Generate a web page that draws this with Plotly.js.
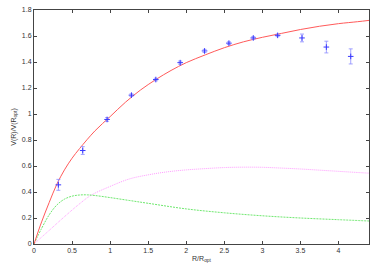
<!DOCTYPE html>
<html><head><meta charset="utf-8">
<script src="https://cdn.plot.ly/plotly-3.0.1.min.js"></script>
<style>html,body{margin:0;padding:0;background:#fff}#c{width:382px;height:267px}</style>
</head><body><div id="c"></div>
<script>
// Observed data
const dataR   = [0.32, 0.64, 0.96, 1.28, 1.60, 1.92, 2.24, 2.56, 2.88, 3.20, 3.52, 3.84, 4.16];
const dataV   = [0.455, 0.719, 0.958, 1.145, 1.265, 1.395, 1.485, 1.545, 1.585, 1.605, 1.585, 1.515, 1.443];
const dataErr = [0.042, 0.030, 0.014, 0.010, 0.010, 0.012, 0.012, 0.010, 0.010, 0.010, 0.030, 0.045, 0.058];

// Model curves
const totalR = [0, 0.1, 0.2, 0.3, 0.4, 0.5, 0.6, 0.8, 1.0, 1.2, 1.4, 1.6, 1.8, 2.0, 2.25, 2.5, 2.75, 3.0, 3.25, 3.5, 3.75, 4.0, 4.25, 4.4];
const totalV = [0, 0.17, 0.32, 0.46, 0.57, 0.66, 0.735, 0.87, 0.98, 1.09, 1.185, 1.265, 1.335, 1.395, 1.455, 1.51, 1.555, 1.59, 1.62, 1.65, 1.675, 1.695, 1.71, 1.72];

const diskR = [0, 0.1, 0.2, 0.3, 0.4, 0.5, 0.6, 0.7, 0.8, 1.0, 1.25, 1.5, 2.0, 2.5, 3.0, 3.5, 4.0, 4.4];
const diskV = [0, 0.12, 0.225, 0.30, 0.345, 0.368, 0.377, 0.378, 0.373, 0.357, 0.335, 0.313, 0.27, 0.24, 0.217, 0.20, 0.187, 0.177];

const haloR = [0, 0.2, 0.4, 0.6, 0.75, 1.0, 1.25, 1.5, 1.75, 2.0, 2.25, 2.5, 2.75, 3.0, 3.25, 3.5, 3.75, 4.0, 4.25, 4.4];
const haloV = [0, 0.105, 0.21, 0.31, 0.375, 0.443, 0.50, 0.532, 0.555, 0.57, 0.58, 0.588, 0.591, 0.59, 0.584, 0.577, 0.568, 0.559, 0.55, 0.545];

const xTicks = [0, 0.5, 1, 1.5, 2, 2.5, 3, 3.5, 4];
const yTicks = [0, 0.2, 0.4, 0.6, 0.8, 1, 1.2, 1.4, 1.6, 1.8];

const traces = [
  {x: haloR, y: haloV, mode: 'lines', line: {color: '#ff9cff', width: 1, shape: 'spline', dash: '1px,1px'}, hoverinfo: 'none'},
  {x: diskR, y: diskV, mode: 'lines', line: {color: '#6fe86f', width: 1, shape: 'spline', dash: '2px,1px'}, hoverinfo: 'none'},
  {x: totalR, y: totalV, mode: 'lines', line: {color: '#ff5a5a', width: 1, shape: 'spline'}, hoverinfo: 'none'},
  {x: dataR, y: dataV, mode: 'markers',
   marker: {symbol: 'cross-thin', size: 4, line: {color: '#3a3aff', width: 1}},
   error_y: {type: 'data', array: dataErr, visible: true, color: '#8c8cff', thickness: 0.8, width: 2}}
];

const axisCommon = {
  showline: true, linecolor: '#444', linewidth: 1, mirror: 'allticks',
  ticks: 'inside', ticklen: 3, tickcolor: '#444', tickwidth: 1,
  showgrid: false, zeroline: false,
  tickfont: {family: 'Liberation Sans, Arial, sans-serif', size: 7, color: '#333'}
};

const layout = {
  width: 382, height: 267,
  margin: {l: 34, r: 13, t: 10, b: 23},
  paper_bgcolor: '#fff', plot_bgcolor: '#fff',
  showlegend: false,
  xaxis: Object.assign({}, axisCommon, {
    range: [0, 4.4], tickvals: xTicks, ticktext: xTicks.map(String),
    title: {text: 'R/R<sub>opt</sub>', font: {family: 'Liberation Sans, Arial, sans-serif', size: 7, color: '#333'}, standoff: 2}
  }),
  yaxis: Object.assign({}, axisCommon, {
    range: [0, 1.8], tickvals: yTicks, ticktext: yTicks.map(String),
    title: {text: 'V(R)/V(R<sub>opt</sub>)', font: {family: 'Liberation Sans, Arial, sans-serif', size: 7, color: '#333'}, standoff: 4}
  })
};

Plotly.newPlot('c', traces, layout, {displayModeBar: false, staticPlot: true});
</script></body></html>
